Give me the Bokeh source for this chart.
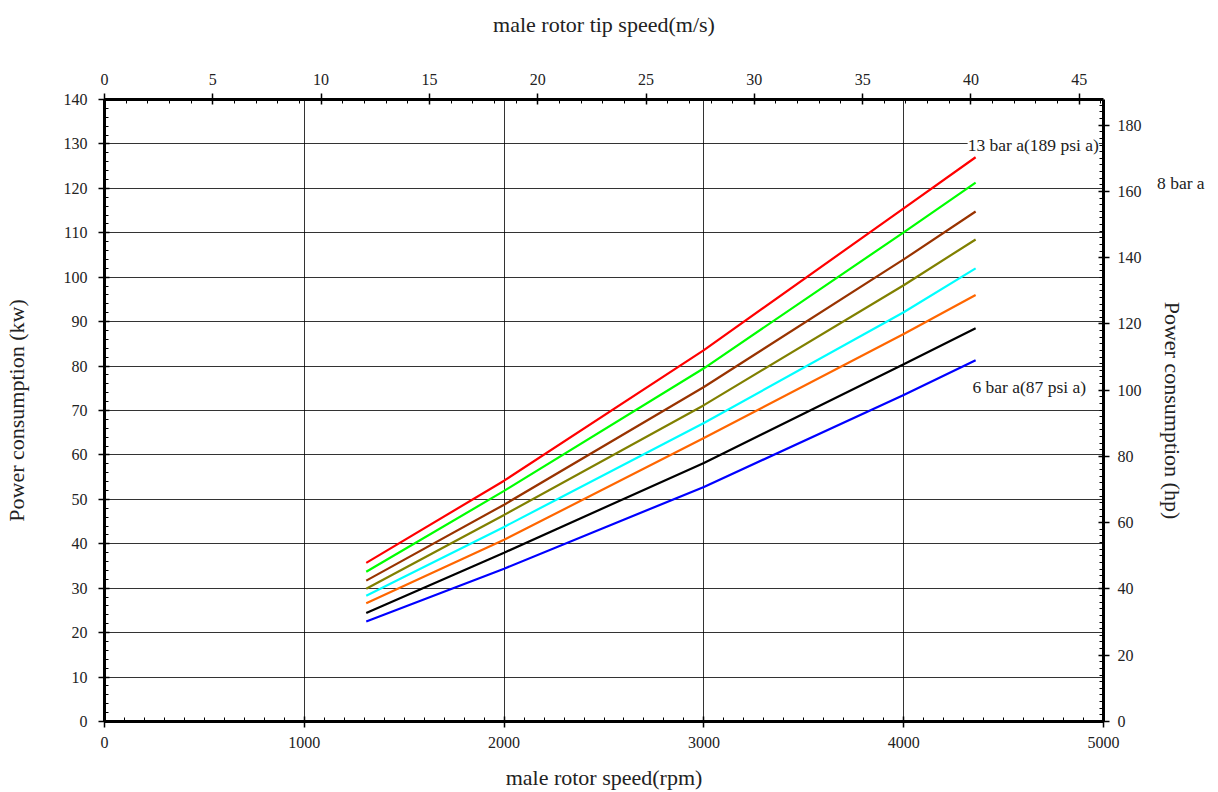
from bokeh.plotting import figure
from bokeh.models import LinearAxis, Range1d, SingleIntervalTicker, FixedTicker, Label, Div
from bokeh.layouts import column
from bokeh.embed import file_html
from bokeh.resources import INLINE

# male rotor speed (rpm) sample points
rpm = [1310, 2000, 3000, 4000, 4360]

# power consumption (kW) per discharge pressure
p13 = [35.7, 54.2, 83.6, 115.5, 127.0]
p12 = [33.7, 51.9, 79.5, 110.1, 121.3]
p11 = [31.7, 48.8, 75.3, 104.0, 114.8]
p10 = [29.9, 46.5, 71.2, 98.2, 108.5]
p9 = [28.3, 43.8, 67.2, 92.1, 102.0]
p8 = [26.6, 40.9, 63.8, 87.2, 96.0]
p7 = [24.4, 38.0, 58.2, 80.4, 88.5]
p6 = [22.5, 34.4, 52.8, 73.5, 81.3]

series = [p13, p12, p11, p10, p9, p8, p7, p6]
colors = ["#FF0000", "#00FF00", "#993300", "#808000", "#00FFFF", "#FF6600", "#000000", "#0000FF"]

labels = ["13 bar a(189 psi a)", "8 bar a", "6 bar a(87 psi a)"]

FONT = "Liberation Serif"
TXT = "#222222"

p = figure(width=1218, height=792, output_backend="svg", toolbar_location=None,
           x_range=Range1d(0, 5000), y_range=Range1d(0, 140),
           min_border_left=104, min_border_right=115, min_border_top=99, min_border_bottom=70,
           x_axis_location=None, y_axis_location=None)
p.outline_line_color = None
p.background_fill_color = "white"

p.extra_x_ranges = {"tip": Range1d(0, 46.12)}
p.extra_y_ranges = {"hp": Range1d(0, 140 * 1.341)}

def style(ax, title, ticker, label_standoff, title_standoff):
    ax.ticker = ticker
    ax.axis_label = title
    ax.axis_label_text_font = FONT
    ax.axis_label_text_font_size = "22px"
    ax.axis_label_text_font_style = "normal"
    ax.axis_label_text_color = TXT
    ax.major_label_text_font = FONT
    ax.major_label_text_font_size = "16px"
    ax.major_label_text_color = TXT
    ax.axis_line_width = 3
    ax.axis_line_color = "black"
    ax.major_tick_in = 5
    ax.major_tick_out = 6
    ax.minor_tick_in = 4
    ax.minor_tick_out = 0
    ax.major_tick_line_width = 1.5
    ax.minor_tick_line_width = 1
    ax.major_label_standoff = label_standoff
    ax.axis_label_standoff = title_standoff

bottom = LinearAxis()
style(bottom, "male rotor speed(rpm)", SingleIntervalTicker(interval=1000, num_minor_ticks=10), 9, 14)
p.add_layout(bottom, "below")

top = LinearAxis(x_range_name="tip")
style(top, "male rotor tip speed(m/s)", SingleIntervalTicker(interval=5, num_minor_ticks=5), 9, 34)
p.add_layout(top, "above")

left = LinearAxis()
style(left, "Power consumption (kw)", SingleIntervalTicker(interval=10, num_minor_ticks=5), 11, 32)
p.add_layout(left, "left")

right = LinearAxis(y_range_name="hp")
style(right, "Power consumption (hp)", SingleIntervalTicker(interval=20, num_minor_ticks=10), 8, 15)
p.add_layout(right, "right")

p.xgrid.ticker = FixedTicker(ticks=[1000, 2000, 3000, 4000])
p.ygrid.ticker = FixedTicker(ticks=list(range(10, 140, 10)))
for g in (p.xgrid, p.ygrid):
    g.grid_line_color = "#000000"
    g.grid_line_alpha = 0.8
    g.grid_line_width = 1

for vals, c in zip(series, colors):
    p.line(rpm, vals, line_color=c, line_width=2.2)

p.add_layout(Label(x=4320, y=129.7, text=labels[0], text_font=FONT, text_font_size="17.5px",
                   text_color=TXT, text_baseline="middle", background_fill_color="white"))
p.add_layout(Label(x=4344, y=75.3, text=labels[2], text_font=FONT, text_font_size="17.5px",
                   text_color=TXT, text_baseline="middle"))

# label that sits outside the plot frame (right of the hp axis)
note = Div(text=labels[1], margin=0,
           styles={"position": "absolute", "left": "1157px", "top": "173px",
                   "font-family": FONT, "font-size": "17.5px", "color": TXT,
                   "white-space": "nowrap", "line-height": "20px"})

layout = column(p, note)
open("out.html", "w").write(file_html(layout, INLINE))
